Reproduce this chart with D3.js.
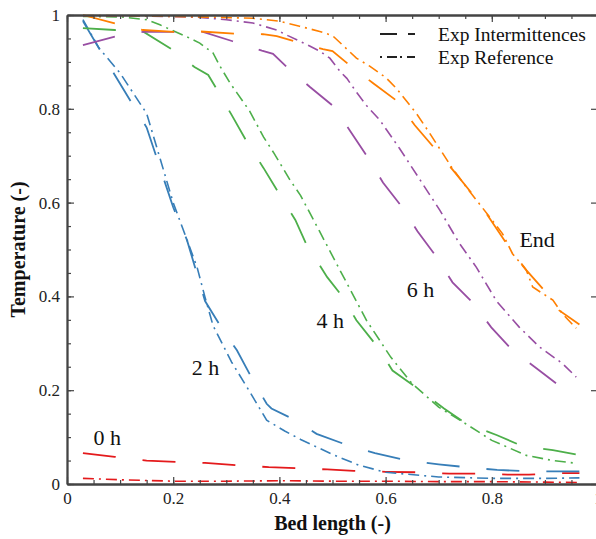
<!DOCTYPE html>
<html><head><meta charset="utf-8">
<script src="https://cdn.jsdelivr.net/npm/d3@7"></script>
<style>html,body{margin:0;padding:0;background:#fff;overflow:hidden}</style>
</head><body>
<svg id="c" width="596" height="539"></svg>
<script>
// ---- data ----
const seriesNames = ["0 h", "2 h", "4 h", "6 h", "End"];
const seriesColors = ["#e41a1c", "#377eb8", "#4daf4a", "#984ea3", "#ff7f00"];

const red_int_x = [0.03, 0.09, 0.15, 0.21, 0.26, 0.32, 0.38, 0.43, 0.49, 0.54, 0.6, 0.66, 0.72, 0.77, 0.83, 0.87, 0.92, 0.965];
const red_int_y = [0.066, 0.058, 0.05, 0.047, 0.045, 0.04, 0.036, 0.034, 0.031, 0.028, 0.026, 0.025, 0.022, 0.022, 0.02, 0.02, 0.023, 0.023];
const red_ref_x = [0.03, 0.1, 0.2, 0.3, 0.4, 0.5, 0.6, 0.7, 0.8, 0.9, 0.965];
const red_ref_y = [0.012, 0.009, 0.006, 0.006, 0.007, 0.006, 0.006, 0.005, 0.005, 0.004, 0.003];

const blue_int_x = [0.03, 0.09, 0.15, 0.2, 0.226, 0.26, 0.29, 0.32, 0.347, 0.376, 0.385, 0.43, 0.47, 0.53, 0.58, 0.64, 0.7, 0.75, 0.81, 0.87, 0.92, 0.965];
const blue_int_y = [0.987, 0.872, 0.76, 0.59, 0.52, 0.39, 0.335, 0.285, 0.228, 0.171, 0.161, 0.136, 0.107, 0.082, 0.066, 0.05, 0.042, 0.036, 0.03, 0.027, 0.027, 0.027];
const blue_ref_x = [0.03, 0.06, 0.1, 0.15, 0.2, 0.245, 0.26, 0.275, 0.31, 0.345, 0.376, 0.41, 0.44, 0.5, 0.55, 0.6, 0.7, 0.8, 0.9, 0.965];
const blue_ref_y = [0.99, 0.93, 0.876, 0.79, 0.6, 0.462, 0.398, 0.338, 0.26, 0.195, 0.136, 0.113, 0.095, 0.063, 0.04, 0.025, 0.015, 0.012, 0.012, 0.013];

const green_int_x = [0.03, 0.09, 0.143, 0.2, 0.24, 0.266, 0.282, 0.31, 0.34, 0.37, 0.4, 0.43, 0.45, 0.49, 0.52, 0.545, 0.585, 0.613, 0.66, 0.71, 0.75, 0.81, 0.855, 0.915, 0.968];
const green_int_y = [0.972, 0.968, 0.965, 0.925, 0.889, 0.872, 0.842, 0.787, 0.727, 0.674, 0.618, 0.563, 0.513, 0.441, 0.398, 0.349, 0.292, 0.242, 0.204, 0.161, 0.13, 0.104, 0.082, 0.072, 0.061];
const green_ref_x = [0.03, 0.1, 0.15, 0.175, 0.225, 0.25, 0.275, 0.288, 0.307, 0.32, 0.344, 0.37, 0.39, 0.42, 0.44, 0.475, 0.514, 0.564, 0.61, 0.65, 0.7, 0.75, 0.8, 0.865, 0.915, 0.96];
const green_ref_y = [0.997, 0.996, 0.99, 0.979, 0.954, 0.94, 0.919, 0.891, 0.855, 0.834, 0.795, 0.74, 0.705, 0.648, 0.615, 0.54, 0.456, 0.349, 0.27, 0.214, 0.164, 0.129, 0.093, 0.061, 0.05, 0.044];

const purple_int_x = [0.03, 0.09, 0.143, 0.203, 0.256, 0.312, 0.367, 0.388, 0.416, 0.457, 0.5, 0.532, 0.566, 0.595, 0.63, 0.66, 0.696, 0.726, 0.764, 0.799, 0.839, 0.884, 0.931];
const purple_int_y = [0.936, 0.954, 0.964, 0.964, 0.964, 0.944, 0.924, 0.917, 0.887, 0.847, 0.807, 0.755, 0.697, 0.643, 0.592, 0.539, 0.484, 0.43, 0.387, 0.334, 0.285, 0.247, 0.206];
const purple_ref_x = [0.03, 0.15, 0.25, 0.3, 0.35, 0.395, 0.416, 0.457, 0.476, 0.495, 0.514, 0.527, 0.546, 0.564, 0.589, 0.626, 0.668, 0.702, 0.739, 0.771, 0.809, 0.852, 0.89, 0.933, 0.959];
const purple_ref_y = [0.998, 0.998, 0.995, 0.99, 0.983, 0.968, 0.956, 0.934, 0.923, 0.908, 0.88, 0.865, 0.834, 0.807, 0.776, 0.716, 0.643, 0.584, 0.513, 0.462, 0.39, 0.334, 0.292, 0.257, 0.228];

const orange_int_x = [0.03, 0.09, 0.143, 0.203, 0.25, 0.316, 0.369, 0.395, 0.429, 0.482, 0.5, 0.529, 0.576, 0.62, 0.655, 0.692, 0.73, 0.768, 0.792, 0.83, 0.865, 0.905, 0.927, 0.965];
const orange_int_y = [1.0, 0.982, 0.968, 0.964, 0.965, 0.96, 0.959, 0.955, 0.944, 0.927, 0.923, 0.896, 0.855, 0.818, 0.765, 0.716, 0.665, 0.612, 0.573, 0.509, 0.456, 0.405, 0.37, 0.34];
const orange_ref_x = [0.03, 0.15, 0.288, 0.35, 0.4, 0.438, 0.476, 0.5, 0.519, 0.545, 0.57, 0.601, 0.62, 0.658, 0.683, 0.724, 0.754, 0.783, 0.82, 0.839, 0.865, 0.877, 0.915, 0.933, 0.959];
const orange_ref_y = [0.999, 0.998, 0.995, 0.993, 0.987, 0.976, 0.965, 0.956, 0.936, 0.908, 0.891, 0.866, 0.844, 0.79, 0.748, 0.676, 0.63, 0.588, 0.534, 0.491, 0.456, 0.42, 0.392, 0.363, 0.332];

const xTicks = [0, 0.2, 0.4, 0.6, 0.8, 1];
const xTickLabels = ["0", "0.2", "0.4", "0.6", "0.8", "1"];
const yTicks = [0, 0.2, 0.4, 0.6, 0.8, 1];
const yTickLabels = ["0", "0.2", "0.4", "0.6", "0.8", "1"];
const legendLabels = ["Exp Intermittences", "Exp Reference"];
const annotations = [
  {text: "0 h", x: 0.05, y: 0.083},
  {text: "2 h", x: 0.235, y: 0.232},
  {text: "4 h", x: 0.47, y: 0.332},
  {text: "6 h", x: 0.64, y: 0.398},
  {text: "End", x: 0.852, y: 0.505}
];

// ---- layout ----
const svg = d3.select("#c");
const L = 67, R = 598, T = 15, B = 484;
const x = d3.scaleLinear().domain([0, 1]).range([L, R]);
const y = d3.scaleLinear().domain([0, 1]).range([B, T]);
const serif = "'Liberation Serif', 'Times New Roman', serif";
const axisColor = "#444";

const series = [
  [red_int_x, red_int_y, red_ref_x, red_ref_y],
  [blue_int_x, blue_int_y, blue_ref_x, blue_ref_y],
  [green_int_x, green_int_y, green_ref_x, green_ref_y],
  [purple_int_x, purple_int_y, purple_ref_x, purple_ref_y],
  [orange_int_x, orange_int_y, orange_ref_x, orange_ref_y]
];

svg.append("defs").append("clipPath").attr("id", "clip")
  .append("rect").attr("x", L).attr("y", T - 2).attr("width", R - L).attr("height", B - T + 2);

const line = d3.line().x(d => x(d[0])).y(d => y(d[1]));
const g = svg.append("g").attr("clip-path", "url(#clip)");

series.forEach((s, i) => {
  const intPts = s[0].map((v, k) => [v, s[1][k]]);
  const refPts = s[2].map((v, k) => [v, s[3][k]]);
  g.append("path").attr("d", line(refPts)).attr("fill", "none")
    .attr("stroke", seriesColors[i]).attr("stroke-width", 1.6)
    .attr("stroke-dasharray", "11,5,2,5");
  g.append("path").attr("d", line(intPts)).attr("fill", "none")
    .attr("stroke", seriesColors[i]).attr("stroke-width", 1.8)
    .attr("stroke-dasharray", "33,27");
});

// ---- axes ----
const xAxisB = d3.axisBottom(x).tickValues(xTicks).tickFormat((d, i) => xTickLabels[i]).tickSizeInner(-7).tickSizeOuter(0).tickPadding(8);
const xAxisBm = d3.axisBottom(x).tickValues(d3.range(0, 1.0001, 0.05)).tickFormat("").tickSizeInner(-4).tickSizeOuter(0);
const xAxisT = d3.axisTop(x).tickValues(xTicks).tickFormat("").tickSizeInner(-7).tickSizeOuter(0);
const xAxisTm = d3.axisTop(x).tickValues(d3.range(0, 1.0001, 0.05)).tickFormat("").tickSizeInner(-4).tickSizeOuter(0);
const yAxisL = d3.axisLeft(y).tickValues(yTicks).tickFormat((d, i) => yTickLabels[i]).tickSizeInner(-7).tickSizeOuter(0).tickPadding(7);
const yAxisLm = d3.axisLeft(y).tickValues(d3.range(0, 1.0001, 0.05)).tickFormat("").tickSizeInner(-4).tickSizeOuter(0);
const yAxisR = d3.axisRight(y).tickValues(yTicks).tickFormat("").tickSizeInner(-7).tickSizeOuter(0);

function style(sel) {
  sel.select(".domain").attr("stroke", axisColor).attr("stroke-width", 1.8);
  sel.selectAll(".tick line").attr("stroke", axisColor).attr("stroke-width", 1.2);
  sel.selectAll(".tick text").attr("font-family", serif).attr("font-size", 17).attr("fill", "#222");
}
svg.append("g").attr("transform", `translate(0,${B})`).call(xAxisBm).call(style);
svg.append("g").attr("transform", `translate(0,${B})`).call(xAxisB).call(style);
svg.append("g").attr("transform", `translate(0,${T})`).call(xAxisTm).call(style);
svg.append("g").attr("transform", `translate(0,${T})`).call(xAxisT).call(style);
svg.append("g").attr("transform", `translate(${L},0)`).call(yAxisLm).call(style);
svg.append("g").attr("transform", `translate(${L},0)`).call(yAxisL).call(style);
svg.append("g").attr("transform", `translate(${R},0)`).call(yAxisR).call(style);

// ---- titles ----
svg.append("text").attr("x", (L + R) / 2).attr("y", 530).attr("text-anchor", "middle")
  .attr("font-family", serif).attr("font-weight", "bold").attr("font-size", 20).attr("fill", "#111")
  .text("Bed length (-)");
svg.append("text").attr("transform", `translate(25,${(T + B) / 2}) rotate(-90)`).attr("text-anchor", "middle")
  .attr("font-family", serif).attr("font-weight", "bold").attr("font-size", 20).attr("fill", "#111")
  .text("Temperature (-)");

// ---- annotations ----
annotations.forEach(a => {
  svg.append("text").attr("x", x(a.x)).attr("y", y(a.y))
    .attr("font-family", serif).attr("font-size", 22).attr("fill", "#111").text(a.text);
});

// ---- legend ----
const lg = svg.append("g");
const legendDash = ["17,11", "2,5,10,3"];
legendLabels.forEach((lab, i) => {
  const yy = 34 + i * 23;
  lg.append("line").attr("x1", 380).attr("x2", 415).attr("y1", yy).attr("y2", yy)
    .attr("stroke", "#222").attr("stroke-width", 1.8).attr("stroke-dasharray", legendDash[i]);
  lg.append("text").attr("x", 438).attr("y", yy + 6.5)
    .attr("font-family", serif).attr("font-size", 19.5).attr("fill", "#111").text(lab);
});
</script>
</body></html>
